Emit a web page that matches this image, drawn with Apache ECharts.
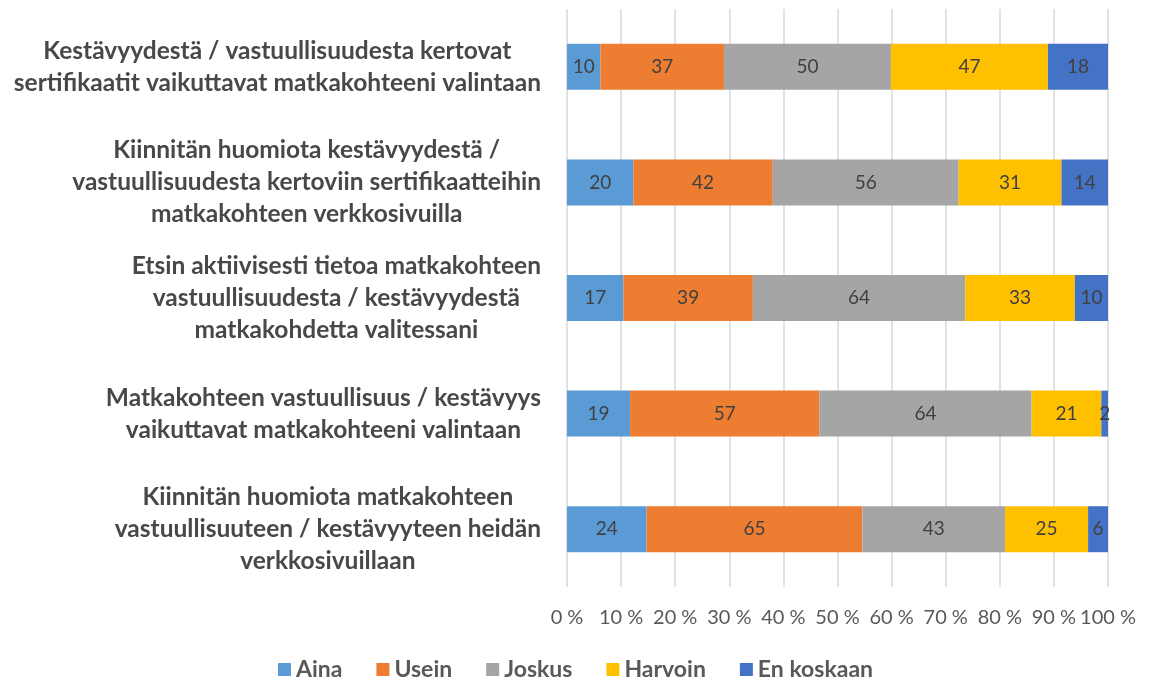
<!DOCTYPE html>
<html>
<head>
<meta charset="utf-8">
<script src="https://cdn.jsdelivr.net/npm/echarts@6/dist/echarts.min.js"></script>
<style>html,body{margin:0;padding:0;background:#fff}#c{width:1151px;height:680px}</style>
</head>
<body>
<div id="c"></div>
<script>
const categories = [
  "Kestävyydestä / vastuullisuudesta kertovat\nsertifikaatit vaikuttavat matkakohteeni valintaan",
  "Kiinnitän huomiota kestävyydestä /\nvastuullisuudesta kertoviin sertifikaatteihin\nmatkakohteen verkkosivuilla",
  "Etsin aktiivisesti tietoa matkakohteen\nvastuullisuudesta / kestävyydestä\nmatkakohdetta valitessani",
  "Matkakohteen vastuullisuus / kestävyys\nvaikuttavat matkakohteeni valintaan",
  "Kiinnitän huomiota matkakohteen\nvastuullisuuteen / kestävyyteen heidän\nverkkosivuillaan"
];
const seriesNames = ["Aina", "Usein", "Joskus", "Harvoin", "En koskaan"];
const aina = [10, 20, 17, 19, 24];
const usein = [37, 42, 39, 57, 65];
const joskus = [50, 56, 64, 64, 43];
const harvoin = [47, 31, 33, 21, 25];
const enKoskaan = [18, 14, 10, 2, 6];
const xTicks = [0, 10, 20, 30, 40, 50, 60, 70, 80, 90, 100];
const colors = ["#5B9BD5", "#ED7D31", "#A5A5A5", "#FFC000", "#4472C4"];

const allSeries = [aina, usein, joskus, harvoin, enKoskaan];
const totals = categories.map((_, i) => allSeries.reduce((s, arr) => s + arr[i], 0));

const chart = echarts.init(document.getElementById('c'), null, {renderer: 'canvas'});
const FONT = 'Lato, "Open Sans", sans-serif';

chart.setOption({
  animation: false,
  color: colors,
  grid: {left: 567, right: 43, top: 9, bottom: 93, containLabel: false},
  legend: {
    top: 653,
    left: 'center',
    icon: 'rect',
    itemWidth: 13,
    itemHeight: 13,
    itemGap: 34,
    textStyle: {fontFamily: FONT, fontSize: 23, fontWeight: 'bold', color: '#595959'},
    data: seriesNames
  },
  xAxis: {
    type: 'value',
    min: 0, max: 100, interval: 10,
    axisLine: {show: false},
    axisTick: {show: false},
    splitLine: {lineStyle: {color: '#D9D9D9', width: 1.5}},
    axisLabel: {
      margin: 21,
      fontFamily: FONT, fontSize: 20, color: '#595959',
      formatter: v => xTicks.includes(v) ? v + ' %' : ''
    }
  },
  yAxis: {
    type: 'category',
    inverse: true,
    data: categories,
    axisLine: {show: false},
    axisTick: {show: false},
    axisLabel: {
      margin: 26,
      align: 'right',
      formatter: v => '{a|' + v + '}',
      rich: {
        a: {align: 'center', fontFamily: FONT, fontSize: 24.5, fontWeight: 'bold', color: '#484848', lineHeight: 32}
      }
    }
  },
  series: allSeries.map((arr, si) => ({
    name: seriesNames[si],
    type: 'bar',
    stack: 'total',
    barWidth: 46,
    data: arr.map((v, i) => ({value: v / totals[i] * 100, raw: v})),
    label: {
      show: true,
      position: 'inside',
      fontFamily: FONT,
      fontSize: 19,
      color: '#404040',
      formatter: p => String(p.data.raw)
    }
  }))
});
</script>
</body>
</html>
